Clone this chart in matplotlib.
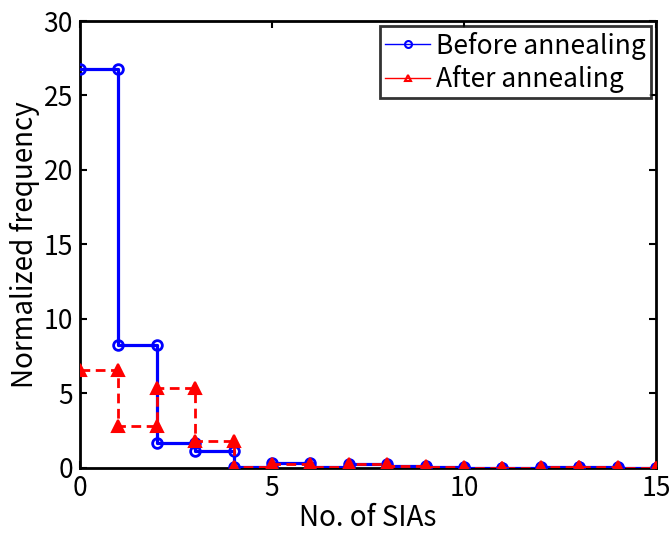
import numpy as np
import matplotlib

matplotlib.use("Agg")
import matplotlib.pyplot as plt
from matplotlib.lines import Line2D

plt.rcParams.update({"font.family": ["Noto Sans CJK JP", "DejaVu Sans"],
                     "font.size": 15})

n_sias = np.arange(16)
before = [26.8, 8.25, 1.65, 1.15, 0.05, 0.35, 0.05, 0.3, 0.1, 0.05,
          0.03, 0.03, 0.05, 0.05, 0.02, 0.02]
after = [6.6, 2.8, 5.35, 1.8, 0.05, 0.3, 0.05, 0.25, 0.1, 0.05,
         0.03, 0.03, 0.05, 0.05, 0.02, 0.02]


def stairs(x, y):
    # matlab-style stairs vertices (marker at both corners)
    x = np.asarray(x, dtype=float)
    y = np.asarray(y, dtype=float)
    return np.repeat(x, 2)[1:], np.repeat(y, 2)[:-1]


fig = plt.figure(figsize=(6.7, 5.33), dpi=100)
ax = fig.add_axes([0.1194, 0.122, 0.8596, 0.8386])

xs, ys = stairs(n_sias, before)
ax.plot(xs, ys, "-", color="blue", lw=2.3, marker="o", ms=7,
        mfc="none", mew=2, zorder=3)
xs, ys = stairs(n_sias, after)
ax.plot(xs, ys, "--", color="red", lw=2.0, marker="^", ms=8,
        mfc="red", mew=1.5, dashes=(3.5, 2), zorder=4)

ax.set_xlim(0, 15)
ax.set_ylim(0, 30)
ax.set_xticks([0, 5, 10, 15])
ax.set_yticks(range(0, 31, 5))
ax.tick_params(direction="in", length=5, width=1.5, top=True, right=True,
               labelsize=19, pad=5)
for s in ax.spines.values():
    s.set_linewidth(2)
ax.set_xlabel("No. of SIAs", fontsize=20, labelpad=1)
ax.set_ylabel("Normalized frequency", fontsize=20, labelpad=3)

handles = [
    Line2D([], [], color="blue", lw=1, marker="o", ms=5, mfc="none", mew=1.5),
    Line2D([], [], color="red", lw=1, marker="^", ms=5, mfc="none", mew=1.5),
]
leg = ax.legend(handles, ["Before annealing", "After annealing"],
                loc="upper right", fontsize=19, frameon=True, fancybox=False,
                borderpad=0.2, labelspacing=0.2, handlelength=1.7,
                handletextpad=0.2, borderaxespad=0.2)
leg.get_frame().set_edgecolor("black")
leg.get_frame().set_linewidth(2)

fig.savefig("out.png", dpi=100)
